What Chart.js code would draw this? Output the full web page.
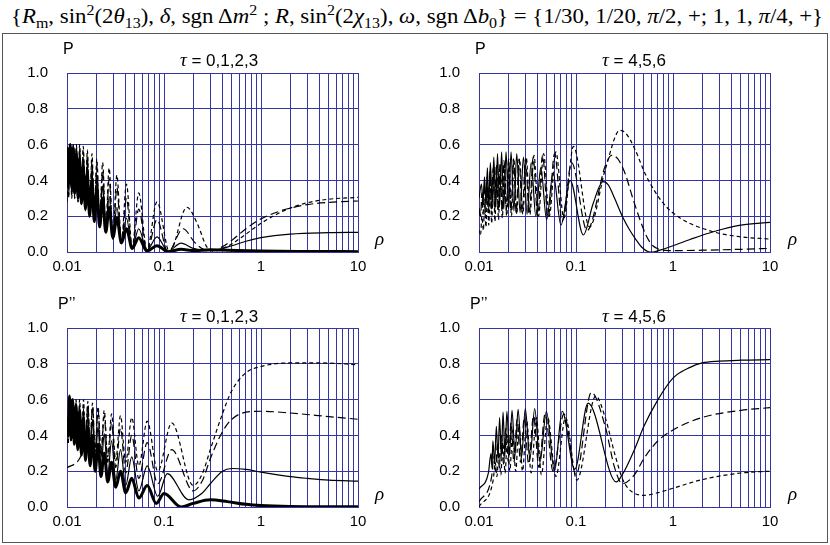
<!DOCTYPE html>
<html>
<head>
<meta charset="utf-8">
<script src="https://cdn.jsdelivr.net/npm/chart.js@4.4.1/dist/chart.umd.min.js"></script>
<style>
body { margin: 0; background: #fff; width: 830px; height: 545px; position: relative; overflow: hidden;
       font-family: "Liberation Sans", Arial, sans-serif; color: #000; }
.abs { position: absolute; white-space: nowrap; line-height: 1; }
#box { position: absolute; left: 2px; top: 33px; width: 824px; height: 508px; border: 1px solid #555; }
canvas { position: absolute; }
#head { font-family: "Liberation Serif", serif; font-size: 20px; left: 417px; top: 6px; transform-origin: 0 0; }
#head sub, #head sup { font-size: 70%; line-height: 0; }
.lbl { font-size: 16px; }
.tau { font-size: 17px; transform: translateX(-50%); }
.tau i, .rho { font-family: "Liberation Serif", serif; font-style: italic; }
.tau i { font-size: 19px; }
.rho { font-size: 19px; }
</style>
</head>
<body>
<div class="abs" id="head">{<i>R</i><sub>m</sub>, sin<sup>2</sup>(2<i>θ</i><sub>13</sub>), <i>δ</i>, sgn&thinsp;Δ<i>m</i><sup>2</sup> ; <i>R</i>, sin<sup>2</sup>(2<i>χ</i><sub>13</sub>), <i>ω</i>, sgn&thinsp;Δ<i>b</i><sub>0</sub>} = {1/30, 1/20, <i>π</i>/2, +; 1, 1, <i>π</i>/4, +}</div>
<div id="box"></div>

<canvas id="tl" width="410" height="240" style="left:0;top:40px"></canvas>
<canvas id="tr" width="410" height="240" style="left:415px;top:40px"></canvas>
<canvas id="bl" width="410" height="240" style="left:0;top:295px"></canvas>
<canvas id="br" width="410" height="240" style="left:415px;top:295px"></canvas>

<div class="abs lbl" style="left:63px;top:41px">P</div>
<div class="abs lbl" style="left:475px;top:41px">P</div>
<div class="abs lbl" style="left:58px;top:296px">P’’</div>
<div class="abs lbl" style="left:470px;top:296px">P’’</div>

<div class="abs tau" style="left:219px;top:50px"><i>τ</i> = 0,1,2,3</div>
<div class="abs tau" style="left:634px;top:50px"><i>τ</i> = 4,5,6</div>
<div class="abs tau" style="left:219px;top:306px"><i>τ</i> = 0,1,2,3</div>
<div class="abs tau" style="left:634px;top:306px"><i>τ</i> = 4,5,6</div>

<div class="abs rho" style="left:375px;top:229px">ρ</div>
<div class="abs rho" style="left:788px;top:229px">ρ</div>
<div class="abs rho" style="left:375px;top:484px">ρ</div>
<div class="abs rho" style="left:788px;top:484px">ρ</div>

<script>
// axis ticks
const xTicks = [0.01, 0.02, 0.03, 0.04, 0.05, 0.06, 0.07, 0.08, 0.09,
                0.1, 0.2, 0.3, 0.4, 0.5, 0.6, 0.7, 0.8, 0.9,
                1, 2, 3, 4, 5, 6, 7, 8, 9, 10];
const xDecades = [0.01, 0.1, 1, 10];
const xLabels = ['0.01', '0.1', '1', '10'];
const yLabels = ['0.0', '0.2', '0.4', '0.6', '0.8', '1.0'];

// P, tau = 0,1,2,3
const tlThick = [[0.01,0.5],[0.0101,0.58],[0.0104,0.38],[0.0108,0.6],[0.0112,0.36],[0.0116,0.58],[0.012,0.33],[0.0125,0.55],[0.013,0.3],[0.0135,0.52],[0.0141,0.27],[0.0147,0.48],[0.0155,0.24],[0.0162,0.44],[0.0171,0.2],[0.0181,0.4],[0.0191,0.17],[0.0203,0.35],[0.0217,0.14],[0.0233,0.3],[0.0251,0.11],[0.0272,0.25],[0.0297,0.08],[0.0327,0.19],[0.0364,0.05],[0.041,0.13],[0.047,0.02],[0.0549,0.08],[0.0667,0.005],[0.0847,0.035],[0.11,0.002],[0.15,0.015],[0.2,0.008],[0.3,0.012],[0.45,0.01],[0.7,0.007],[1,0.005],[3,0.003],[10,0.002]];
const tlThin = [[0.01,0.45],[0.0101,0.58],[0.0104,0.35],[0.0108,0.6],[0.0112,0.34],[0.0116,0.6],[0.012,0.32],[0.0125,0.58],[0.013,0.3],[0.0135,0.56],[0.0141,0.28],[0.0147,0.53],[0.0155,0.25],[0.0162,0.5],[0.0171,0.22],[0.0181,0.46],[0.0191,0.19],[0.0203,0.42],[0.0217,0.16],[0.0233,0.37],[0.0251,0.12],[0.0272,0.31],[0.0297,0.09],[0.0327,0.25],[0.0364,0.05],[0.041,0.19],[0.047,0.025],[0.0549,0.13],[0.0667,0.01],[0.0847,0.085],[0.11,0.005],[0.15,0.05],[0.2,0.02],[0.27,0.008],[0.35,0.012],[0.5,0.035],[0.7,0.06],[1,0.08],[2,0.1],[5,0.108],[10,0.11]];
const tlLong = [[0.01,0.3],[0.0101,0.52],[0.0104,0.32],[0.0108,0.6],[0.0112,0.31],[0.0116,0.6],[0.012,0.3],[0.0125,0.59],[0.013,0.28],[0.0135,0.58],[0.0141,0.26],[0.0147,0.56],[0.0155,0.23],[0.0162,0.54],[0.0171,0.2],[0.0181,0.51],[0.0191,0.17],[0.0203,0.48],[0.0217,0.14],[0.0233,0.45],[0.0251,0.11],[0.0272,0.41],[0.0297,0.07],[0.0327,0.36],[0.0364,0.04],[0.041,0.3],[0.047,0.015],[0.0549,0.24],[0.0667,0.005],[0.0847,0.18],[0.11,0.0],[0.157,0.13],[0.21,0.05],[0.27,0.01],[0.33,0.008],[0.4,0.03],[0.5,0.065],[0.7,0.13],[1,0.185],[1.5,0.225],[2,0.245],[3,0.265],[5,0.277],[10,0.285]];
const tlShort = [[0.01,0.28],[0.0101,0.5],[0.0104,0.3],[0.0108,0.58],[0.0112,0.3],[0.0116,0.6],[0.012,0.3],[0.0125,0.6],[0.013,0.28],[0.0135,0.6],[0.0141,0.27],[0.0147,0.59],[0.0155,0.25],[0.0162,0.57],[0.0171,0.22],[0.0181,0.55],[0.0191,0.2],[0.0203,0.52],[0.0217,0.17],[0.0233,0.5],[0.0251,0.14],[0.0272,0.47],[0.0297,0.1],[0.0327,0.43],[0.0364,0.06],[0.041,0.38],[0.047,0.03],[0.0549,0.33],[0.0667,0.01],[0.0847,0.28],[0.114,0.0],[0.172,0.25],[0.22,0.16],[0.275,0.03],[0.33,0.005],[0.4,0.02],[0.5,0.045],[0.7,0.1],[1,0.16],[1.5,0.215],[2,0.245],[3,0.275],[5,0.295],[10,0.305]];

// P, tau = 4,5,6
const trSolid = [[0.01,0.3],[0.0106,0.38],[0.011,0.28],[0.0114,0.42],[0.0118,0.27],[0.0122,0.47],[0.0126,0.26],[0.0131,0.5],[0.0137,0.26],[0.0142,0.53],[0.0149,0.25],[0.0155,0.55],[0.0163,0.25],[0.0171,0.56],[0.018,0.24],[0.019,0.56],[0.0202,0.24],[0.0214,0.56],[0.0229,0.23],[0.0245,0.55],[0.0265,0.22],[0.0287,0.53],[0.0313,0.21],[0.0345,0.5],[0.0385,0.2],[0.0433,0.47],[0.0498,0.18],[0.058,0.44],[0.07,0.15],[0.087,0.4],[0.119,0.095],[0.15,0.27],[0.19,0.393],[0.215,0.375],[0.25,0.3],[0.3,0.2],[0.36,0.12],[0.42,0.065],[0.48,0.025],[0.55,0.003],[0.62,0.0],[0.75,0.012],[1,0.035],[1.5,0.07],[2.6,0.113],[5,0.15],[10,0.165]];
const trLong = [[0.01,0.2],[0.0101,0.25],[0.0104,0.2],[0.0107,0.33],[0.011,0.21],[0.0114,0.38],[0.0117,0.22],[0.0121,0.42],[0.0125,0.22],[0.013,0.45],[0.0134,0.23],[0.014,0.47],[0.0145,0.23],[0.0151,0.49],[0.0158,0.23],[0.0165,0.5],[0.0173,0.23],[0.0181,0.51],[0.0191,0.23],[0.0202,0.52],[0.0213,0.23],[0.0227,0.52],[0.0242,0.22],[0.0259,0.52],[0.0279,0.22],[0.0302,0.52],[0.0329,0.21],[0.0362,0.53],[0.0402,0.2],[0.0452,0.54],[0.0515,0.19],[0.0602,0.55],[0.072,0.17],[0.09,0.5],[0.13,0.12],[0.2,0.48],[0.233,0.54],[0.27,0.52],[0.32,0.44],[0.38,0.31],[0.45,0.19],[0.535,0.086],[0.62,0.035],[0.72,0.015],[0.9,0.008],[1.2,0.008],[2,0.01],[5,0.015],[10,0.02]];
const trShort = [[0.01,0.1],[0.0101,0.12],[0.0104,0.1],[0.0107,0.2],[0.0111,0.12],[0.0114,0.27],[0.0118,0.14],[0.0122,0.33],[0.0126,0.15],[0.0131,0.38],[0.0135,0.16],[0.0141,0.42],[0.0146,0.17],[0.0152,0.45],[0.0159,0.18],[0.0166,0.47],[0.0174,0.19],[0.0183,0.49],[0.0193,0.2],[0.0204,0.5],[0.0216,0.2],[0.0229,0.51],[0.0245,0.21],[0.0262,0.52],[0.0283,0.21],[0.0307,0.53],[0.0335,0.21],[0.0369,0.54],[0.0411,0.2],[0.0463,0.55],[0.053,0.2],[0.062,0.56],[0.0749,0.19],[0.094,0.59],[0.138,0.14],[0.2,0.46],[0.284,0.68],[0.33,0.66],[0.4,0.58],[0.535,0.42],[0.8,0.27],[1.18,0.19],[2.6,0.113],[5,0.085],[10,0.072]];

// P'', tau = 0,1,2,3
const blThick = [[0.01,0.5],[0.0103,0.4],[0.0106,0.62],[0.011,0.38],[0.0114,0.6],[0.0119,0.35],[0.0124,0.57],[0.0129,0.32],[0.0135,0.54],[0.0141,0.29],[0.0148,0.5],[0.0155,0.26],[0.0164,0.45],[0.0173,0.23],[0.0183,0.4],[0.0195,0.2],[0.0209,0.35],[0.0224,0.17],[0.0242,0.3],[0.0263,0.14],[0.0288,0.25],[0.0318,0.11],[0.0356,0.2],[0.0403,0.08],[0.0465,0.16],[0.055,0.05],[0.0671,0.12],[0.0832,0.02],[0.1,0.075],[0.15,0.0],[0.2,0.02],[0.3,0.04],[0.45,0.03],[0.7,0.015],[1,0.008],[2,0.003],[10,0.001]];
const blThin = [[0.01,0.45],[0.0103,0.38],[0.0106,0.6],[0.011,0.37],[0.0114,0.6],[0.0119,0.36],[0.0124,0.59],[0.0129,0.34],[0.0135,0.57],[0.0141,0.32],[0.0148,0.55],[0.0155,0.3],[0.0164,0.52],[0.0173,0.27],[0.0183,0.49],[0.0195,0.24],[0.0209,0.45],[0.0224,0.21],[0.0242,0.41],[0.0263,0.18],[0.0288,0.37],[0.0318,0.15],[0.0356,0.32],[0.0403,0.12],[0.0465,0.28],[0.055,0.09],[0.0671,0.23],[0.0862,0.06],[0.108,0.186],[0.18,0.04],[0.25,0.08],[0.3,0.13],[0.4,0.2],[0.5,0.215],[0.7,0.21],[1,0.195],[2,0.17],[3,0.16],[5,0.15],[10,0.145]];
const blLong = [[0.01,0.22],[0.0155,0.36],[0.0164,0.57],[0.0173,0.33],[0.0183,0.56],[0.0195,0.31],[0.0209,0.54],[0.0224,0.28],[0.0242,0.51],[0.0263,0.25],[0.0288,0.47],[0.0318,0.22],[0.0356,0.44],[0.0403,0.19],[0.0465,0.4],[0.055,0.16],[0.0671,0.36],[0.0862,0.13],[0.12,0.32],[0.2,0.09],[0.25,0.15],[0.3,0.27],[0.4,0.42],[0.5,0.49],[0.7,0.53],[1,0.535],[2,0.525],[5,0.505],[10,0.49]];
const blShort = [[0.01,0.38],[0.0103,0.35],[0.0106,0.55],[0.011,0.36],[0.0114,0.58],[0.0119,0.36],[0.0124,0.6],[0.0129,0.36],[0.0135,0.6],[0.0141,0.35],[0.0148,0.6],[0.0155,0.34],[0.0164,0.59],[0.0173,0.33],[0.0183,0.58],[0.0195,0.31],[0.0209,0.56],[0.0224,0.3],[0.0242,0.54],[0.0263,0.28],[0.0288,0.52],[0.0318,0.26],[0.0356,0.51],[0.0403,0.25],[0.0465,0.5],[0.055,0.23],[0.0671,0.48],[0.0862,0.2],[0.12,0.47],[0.2,0.12],[0.25,0.19],[0.3,0.32],[0.4,0.52],[0.5,0.65],[0.7,0.75],[1,0.785],[2,0.805],[4,0.805],[10,0.795]];

// P'', tau = 4,5,6
const brSolid = [[0.01,0.1],[0.0125,0.19],[0.0133,0.3],[0.0136,0.22],[0.0139,0.37],[0.0145,0.25],[0.0151,0.45],[0.0157,0.27],[0.0163,0.5],[0.017,0.28],[0.0177,0.53],[0.0185,0.29],[0.0194,0.535],[0.0206,0.29],[0.0219,0.54],[0.0235,0.29],[0.0253,0.545],[0.0275,0.28],[0.03,0.55],[0.0335,0.27],[0.0375,0.55],[0.0425,0.25],[0.0495,0.535],[0.06,0.2],[0.072,0.535],[0.097,0.21],[0.133,0.58],[0.26,0.14],[0.3,0.18],[0.4,0.32],[0.5,0.45],[0.7,0.6],[1,0.72],[1.5,0.78],[2,0.805],[3,0.815],[5,0.82],[10,0.823]];
const brLong = [[0.01,0.03],[0.0135,0.17],[0.0142,0.28],[0.0148,0.2],[0.0155,0.35],[0.0162,0.22],[0.017,0.4],[0.0179,0.24],[0.0189,0.44],[0.0201,0.25],[0.0214,0.47],[0.0229,0.25],[0.0247,0.49],[0.0268,0.25],[0.0293,0.5],[0.0325,0.24],[0.0365,0.51],[0.0415,0.22],[0.048,0.52],[0.058,0.2],[0.075,0.52],[0.1,0.18],[0.144,0.64],[0.2,0.45],[0.25,0.22],[0.3,0.13],[0.4,0.18],[0.5,0.27],[0.7,0.37],[1,0.43],[2,0.5],[5,0.54],[10,0.555]];
const brShort = [[0.01,0.0],[0.014,0.15],[0.0147,0.25],[0.0153,0.17],[0.016,0.31],[0.0168,0.18],[0.0176,0.36],[0.0186,0.19],[0.0196,0.4],[0.0208,0.2],[0.0222,0.43],[0.0239,0.2],[0.0258,0.46],[0.0281,0.2],[0.031,0.48],[0.0345,0.19],[0.039,0.5],[0.044,0.18],[0.051,0.5],[0.062,0.17],[0.078,0.5],[0.102,0.15],[0.16,0.62],[0.2,0.5],[0.25,0.3],[0.3,0.16],[0.35,0.1],[0.5,0.065],[0.7,0.08],[1,0.105],[2,0.153],[5,0.19],[10,0.2]];

const gridColor = '#3535a2';
const tickFont = { family: '"Liberation Sans", Arial, sans-serif', size: 15 };
const THICK = { width: 3, dash: [] };
const THIN = { width: 1.2, dash: [] };
const LONG = { width: 1.2, dash: [8, 4] };
const SHORT = { width: 1.2, dash: [4, 3] };

// stretch the header to the width of the reference line
const head = document.getElementById('head');
const headW = head.getBoundingClientRect().width;
head.style.transform = 'scaleX(' + (812 / headW) + ') translateX(-50%)';

function makePanel(canvas_id, series, yWidth, padRight) {
    const canvas = document.getElementById(canvas_id);
    return new Chart(canvas.getContext('2d'), {
        type: 'scatter',
        data: {
            datasets: series.map(s => ({
                data: s[0].map(p => ({ x: p[0], y: p[1] })),
                showLine: true,
                borderColor: '#000',
                borderWidth: s[1].width,
                borderDash: s[1].dash,
                pointRadius: 0,
                cubicInterpolationMode: 'monotone',
                fill: false
            }))
        },
        options: {
            responsive: false,
            animation: false,
            events: [],
            layout: { padding: { left: 0, top: 33, right: padRight, bottom: 0 } },
            plugins: { legend: { display: false }, tooltip: { enabled: false } },
            scales: {
                x: {
                    type: 'logarithmic',
                    min: 0.01,
                    max: 10,
                    afterBuildTicks: s => { s.ticks = xTicks.map(v => ({ value: v })); },
                    afterFit: s => { s.height = 28; },
                    ticks: {
                        autoSkip: false, maxRotation: 0, padding: 6, color: '#000', font: tickFont,
                        callback: v => { const i = xDecades.indexOf(v); return i < 0 ? '' : xLabels[i]; }
                    },
                    grid: { color: gridColor, lineWidth: 1, drawTicks: false },
                    border: { color: gridColor }
                },
                y: {
                    min: 0,
                    max: 1,
                    afterFit: s => { s.width = yWidth; },
                    ticks: {
                        stepSize: 0.1, padding: 19, color: '#000', font: tickFont,
                        callback: v => { const n = Math.round(v * 10); return n % 2 ? '' : yLabels[n / 2]; }
                    },
                    grid: { color: gridColor, lineWidth: 1, drawTicks: false },
                    border: { color: gridColor }
                }
            }
        }
    });
}

makePanel('tl', [[tlThick, THICK], [tlThin, THIN], [tlLong, LONG], [tlShort, SHORT]], 67, 52);
makePanel('tr', [[trSolid, THIN], [trLong, LONG], [trShort, SHORT]], 64, 55);
makePanel('bl', [[blThick, THICK], [blThin, THIN], [blLong, LONG], [blShort, SHORT]], 67, 52);
makePanel('br', [[brSolid, THIN], [brLong, LONG], [brShort, SHORT]], 64, 55);
</script>
</body>
</html>
